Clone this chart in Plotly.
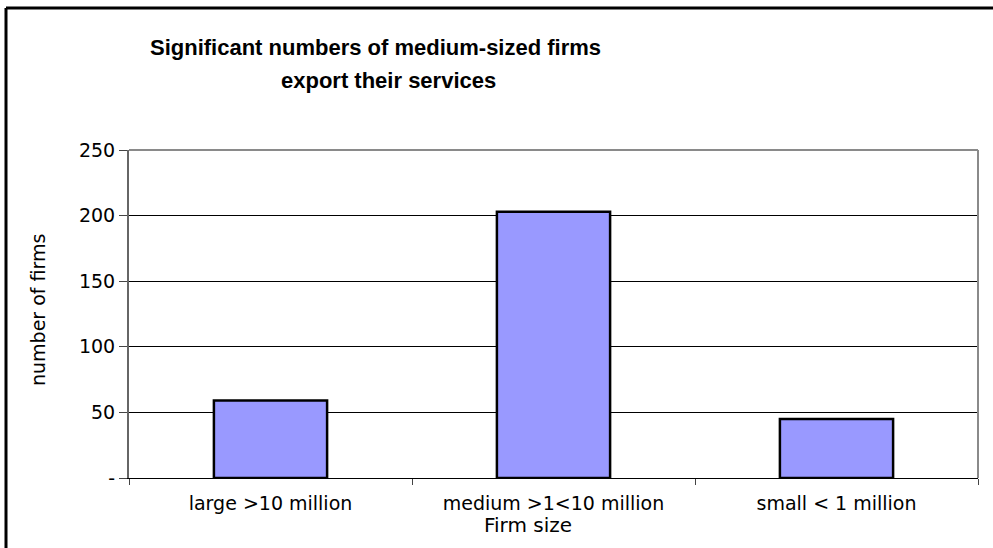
import plotly.graph_objects as go

categories = ["large >10 million", "medium >1<10 million", "small < 1 million"]
firms = [59, 203, 45]
y_tickvals = [0, 50, 100, 150, 200, 250]
y_ticktext = ["-", "50", "100", "150", "200", "250"]

W, H = 993, 548
L, R, T, B = 129, 15, 150, 70
pw, ph = W - L - R, H - T - B

def px_x(x):
    return (x - L) / pw

def px_y(y):
    return (H - B - y) / ph

fig = go.Figure(go.Bar(
    x=categories, y=firms, width=0.4,
    marker=dict(color="#9999FF", line=dict(color="black", width=2.5)),
    hoverinfo="x+y",
))

fig.update_layout(
    width=W, height=H,
    margin=dict(l=L, r=R, t=T, b=B),
    paper_bgcolor="white", plot_bgcolor="white",
    showlegend=False,
    font=dict(family="DejaVu Sans", size=19, color="black"),
)
fig.update_xaxes(
    range=[-0.5, 2.5],
    showgrid=False, showline=True, linecolor="black", linewidth=1,
    ticks="outside", tickson="boundaries", ticklen=6, tickcolor="#444",
    tickfont=dict(family="DejaVu Sans", size=19),
    ticklabelstandoff=8,
)
fig.update_yaxes(
    range=[0, 250], tickvals=y_tickvals, ticktext=y_ticktext,
    showgrid=True, gridcolor="black", gridwidth=1,
    showline=True, linecolor="#666", linewidth=2,
    ticks="outside", ticklen=8, tickcolor="#444",
    tickfont=dict(family="DejaVu Sans", size=19),
    zeroline=False,
)

shapes = [
    dict(type="line", xref="paper", yref="paper", x0=0, x1=1, y0=1, y1=1,
         line=dict(color="#8a8a8a", width=2)),
    dict(type="line", xref="paper", yref="paper", x0=1, x1=1, y0=0, y1=1,
         line=dict(color="#8a8a8a", width=2)),
    dict(type="line", xref="paper", yref="paper", x0=px_x(6), x1=px_x(1000), y0=px_y(8), y1=px_y(8),
         line=dict(color="black", width=3)),
    dict(type="line", xref="paper", yref="paper", x0=px_x(6), x1=px_x(6), y0=px_y(8), y1=px_y(560),
         line=dict(color="black", width=3)),
]
fig.update_layout(shapes=shapes)

annotations = [
    dict(text="<b>Significant numbers of medium-sized firms</b>", xref="paper", yref="paper",
         x=px_x(375), y=px_y(47), xanchor="center", yanchor="middle", showarrow=False,
         font=dict(family="Liberation Sans", size=22, color="black")),
    dict(text="<b>export their services</b>", xref="paper", yref="paper",
         x=px_x(388), y=px_y(80), xanchor="center", yanchor="middle", showarrow=False,
         font=dict(family="Liberation Sans", size=22, color="black")),
    dict(text="number of firms", xref="paper", yref="paper",
         x=px_x(38), y=px_y(310), xanchor="center", yanchor="middle", textangle=-90,
         showarrow=False, font=dict(family="DejaVu Sans", size=19, color="black")),
    dict(text="Firm size", xref="paper", yref="paper",
         x=px_x(528), y=px_y(525), xanchor="center", yanchor="middle",
         showarrow=False, font=dict(family="DejaVu Sans", size=20, color="black")),
]
fig.update_layout(annotations=annotations)

fig.write_html("out.html")
